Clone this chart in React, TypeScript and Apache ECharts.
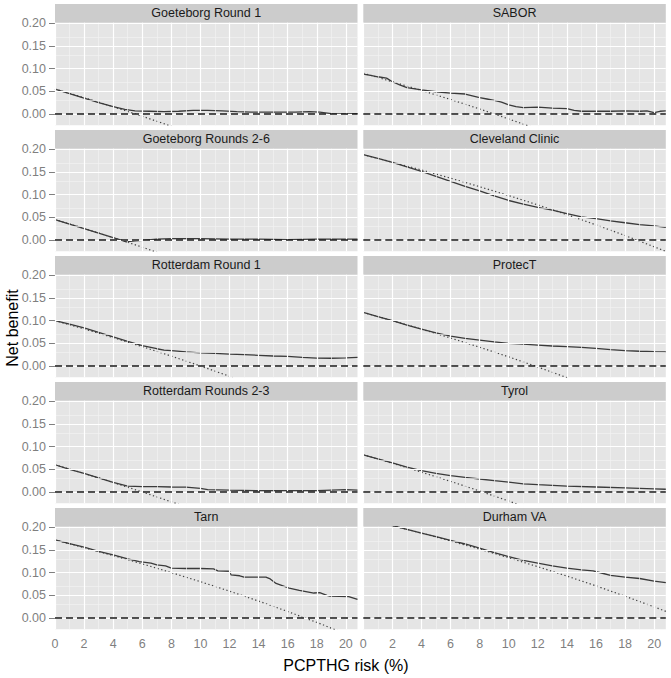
import React, { useEffect, useRef } from "react";
import * as echarts from "echarts";

// ---------- data ----------
const panelTitles = [
  "Goeteborg Round 1",
  "SABOR",
  "Goeteborg Rounds 2-6",
  "Cleveland Clinic",
  "Rotterdam Round 1",
  "ProtecT",
  "Rotterdam Rounds 2-3",
  "Tyrol",
  "Tarn",
  "Durham VA",
];

const xTicks = [0, 2, 4, 6, 8, 10, 12, 14, 16, 18, 20];
const xMinorTicks = [1, 3, 5, 7, 9, 11, 13, 15, 17, 19];
const yTicks = [0, 0.05, 0.1, 0.15, 0.2];
const yMinorTicks = [0.025, 0.075, 0.125, 0.175];
const X_MIN = 0;
const X_MAX = 20.8;
const Y_MIN = -0.0247;
const Y_MAX = 0.2011;
const xTitle = "PCPTHG risk (%)";
const yTitle = "Net benefit";

type Pt = [number, number];

const goeteborgR1Model: Pt[] = [[0,0.055],[1,0.045],[2,0.035],[3,0.025],[4,0.016],[4.8,0.01],[5.5,0.007],[6.5,0.006],[7.5,0.005],[8.5,0.006],[9.5,0.008],[10.5,0.008],[11.5,0.007],[12.5,0.005],[13.5,0.004],[15,0.004],[16.5,0.004],[17.5,0.005],[18.2,0.004],[19,0.001],[20,0.0],[20.8,0.001]];
const goeteborgR1All: Pt[] = [[0,0.055],[2,0.036],[4,0.016],[6,-0.005],[8,-0.027]];

const saborModel: Pt[] = [[0,0.088],[0.5,0.085],[1,0.082],[1.6,0.079],[2,0.071],[2.5,0.064],[3,0.058],[4,0.053],[5,0.049],[6,0.046],[7,0.044],[7.5,0.04],[8,0.036],[8.5,0.033],[9,0.03],[9.5,0.026],[10,0.02],[10.5,0.016],[11,0.014],[12,0.015],[13,0.013],[14,0.012],[14.5,0.008],[15,0.006],[16,0.006],[17,0.006],[18,0.007],[19,0.006],[19.5,0.007],[20,0.003],[20.4,0.006],[20.8,0.007]];
const saborAll: Pt[] = [[0,0.09],[2,0.071],[4,0.052],[6,0.032],[8,0.011],[10,-0.011],[11.5,-0.028]];

const goeteborgR26Model: Pt[] = [[0,0.045],[1,0.035],[2,0.025],[3,0.015],[4,0.005],[4.5,0.0],[4.9,-0.004],[5.5,-0.002],[6,-0.001],[7,0.002],[8,0.003],[10,0.003],[12,0.002],[14,0.002],[16,0.001],[18,0.002],[20,0.002],[20.8,0.002]];
const goeteborgR26All: Pt[] = [[0,0.045],[2,0.0255],[4,0.005],[5,-0.0051],[6,-0.0158],[7,-0.027]];

const clevelandModel: Pt[] = [[0,0.188],[1,0.18],[2,0.171],[3,0.161],[4,0.151],[5,0.14],[6,0.129],[7,0.118],[8,0.108],[9,0.097],[10,0.087],[11,0.079],[12,0.072],[13,0.066],[14,0.058],[15,0.051],[16,0.047],[17,0.042],[18,0.038],[19,0.034],[20,0.031],[20.8,0.028]];
const clevelandAll: Pt[] = [[0,0.188],[2,0.1714],[4,0.1542],[6,0.1362],[8,0.1174],[10,0.0978],[12,0.0773],[14,0.0558],[16,0.0333],[18,0.0098],[20,-0.015],[20.8,-0.025]];

const rotterdamR1Model: Pt[] = [[0,0.1],[1,0.092],[2,0.084],[3,0.074],[4,0.064],[5,0.054],[6,0.045],[7,0.038],[7.5,0.035],[8,0.034],[9,0.031],[10,0.029],[11,0.028],[12,0.026],[13,0.025],[14,0.0235],[15,0.022],[16,0.021],[17,0.019],[18,0.0175],[19,0.017],[20,0.018],[20.8,0.019]];
const rotterdamR1All: Pt[] = [[0,0.1],[2,0.0816],[4,0.0625],[6,0.0426],[8,0.0217],[10,0.0],[12,-0.0227],[12.2,-0.025]];

const protecTModel: Pt[] = [[0,0.118],[1,0.109],[2,0.1],[3,0.09],[4,0.081],[5,0.073],[6,0.066],[7,0.061],[8,0.057],[9,0.053],[10,0.05],[11,0.048],[12,0.046],[13,0.044],[14,0.0425],[15,0.041],[16,0.039],[17,0.036],[18,0.034],[19,0.0325],[20,0.0315],[20.8,0.031]];
const protecTAll: Pt[] = [[0,0.118],[2,0.1],[4,0.0812],[6,0.0617],[8,0.0413],[10,0.02],[12,-0.0023],[14,-0.0256]];

const rotterdamR23Model: Pt[] = [[0,0.06],[1,0.05],[2,0.041],[3,0.031],[4,0.021],[5,0.013],[6,0.012],[7,0.012],[8,0.011],[9,0.0105],[10,0.008],[10.5,0.005],[12,0.004],[14,0.003],[16,0.003],[18,0.003],[19,0.004],[20,0.005],[20.8,0.004]];
const rotterdamR23All: Pt[] = [[0,0.06],[2,0.0408],[4,0.0208],[6,0.0],[8,-0.0217],[8.5,-0.027]];

const tyrolModel: Pt[] = [[0,0.082],[1,0.073],[2,0.064],[3,0.055],[4,0.047],[5,0.041],[6,0.036],[7,0.032],[8,0.0286],[9,0.025],[10,0.0215],[11,0.018],[12,0.016],[13,0.0145],[14,0.013],[16,0.011],[18,0.009],[20,0.007],[20.8,0.006]];
const tyrolAll: Pt[] = [[0,0.082],[2,0.0633],[4,0.0437],[6,0.0234],[8,0.0022],[10,-0.02],[10.6,-0.027]];

const tarnModel: Pt[] = [[0,0.172],[1,0.164],[2,0.156],[3,0.147],[4,0.139],[5,0.13],[5.8,0.124],[6.6,0.121],[7,0.117],[7.6,0.115],[8,0.11],[9,0.109],[10,0.109],[10.9,0.108],[11.2,0.104],[12,0.103],[12.1,0.095],[12.7,0.093],[13,0.09],[14.5,0.09],[14.8,0.086],[15.2,0.076],[16.1,0.066],[16.8,0.061],[17.8,0.055],[18.2,0.056],[18.7,0.05],[18.9,0.048],[20.2,0.047],[20.8,0.041]];
const tarnAll: Pt[] = [[0,0.172],[2,0.155],[4,0.1375],[6,0.1192],[8,0.1],[10,0.08],[12,0.0591],[14,0.0372],[16,0.0143],[18,-0.0097],[20,-0.035]];

const durhamModel: Pt[] = [[0,0.2195],[1,0.212],[2,0.2036],[3,0.195],[4,0.187],[5,0.179],[6,0.171],[7,0.163],[8,0.154],[9,0.144],[10,0.135],[11,0.127],[12,0.121],[13,0.115],[14,0.11],[15,0.106],[15.8,0.104],[16.5,0.098],[17,0.094],[18,0.09],[19,0.087],[20,0.081],[20.8,0.078]];
const durhamAll: Pt[] = [[0,0.2195],[2,0.2036],[4,0.187],[6,0.1697],[8,0.1516],[10,0.1328],[12,0.113],[14,0.0924],[16,0.0708],[18,0.048],[20,0.0244],[20.8,0.0146]];

const treatNone: Pt[] = [[X_MIN, 0], [X_MAX, 0]];

const modelCurves = [goeteborgR1Model, saborModel, goeteborgR26Model, clevelandModel, rotterdamR1Model, protecTModel, rotterdamR23Model, tyrolModel, tarnModel, durhamModel];
const treatAllCurves = [goeteborgR1All, saborAll, goeteborgR26All, clevelandAll, rotterdamR1All, protecTAll, rotterdamR23All, tyrolAll, tarnAll, durhamAll];

// ---------- layout / style ----------
const W = 671;
const H = 678;
const COL_LEFT = [55, 363.3];
const PANEL_W = 302.5;
const ROW_TOP0 = 22.7;
const ROW_STEP = 126;
const PANEL_H = 102.5;
const STRIP_H = 18.6;
const FONT = "Liberation Sans, Arial, Helvetica, sans-serif";
const TICK_GREY = "#7F7F7F";

function buildOption() {
  const grids: any[] = [];
  const xAxes: any[] = [];
  const yAxes: any[] = [];
  const series: any[] = [];
  const graphics: any[] = [];

  panelTitles.forEach((title, i) => {
    const row = Math.floor(i / 2);
    const col = i % 2;
    const left = COL_LEFT[col];
    const top = ROW_TOP0 + ROW_STEP * row;
    const isBottom = row === 4;
    const isLeft = col === 0;

    grids.push({
      left, top, width: PANEL_W, height: PANEL_H,
      show: true, backgroundColor: "#E5E5E5", borderWidth: 0, containLabel: false,
    });

    xAxes.push({
      type: "value", gridIndex: i, min: X_MIN, max: X_MAX,
      axisLine: { show: false },
      splitLine: { show: false },
      axisTick: { show: isBottom, customValues: xTicks, length: 5, lineStyle: { color: TICK_GREY, width: 1 } },
      axisLabel: {
        show: isBottom, customValues: xTicks, color: TICK_GREY, fontSize: 12.5, fontFamily: FONT, margin: 8,
        formatter: (v: number) => String(v),
      },
    });

    yAxes.push({
      type: "value", gridIndex: i, min: Y_MIN, max: Y_MAX,
      axisLine: { show: false },
      splitLine: { show: false },
      axisTick: { show: isLeft, customValues: yTicks, length: 6, lineStyle: { color: TICK_GREY, width: 1 } },
      axisLabel: {
        show: isLeft, customValues: yTicks, color: TICK_GREY, fontSize: 12.5, fontFamily: FONT, margin: 9,
        formatter: (v: number) => v.toFixed(2),
      },
    });

    const minorStyle = { color: "#F2F2F2", width: 0.7, type: "solid" };
    const majorStyle = { color: "#FFFFFF", width: 1.2, type: "solid" };
    const gridLines = [
      ...yMinorTicks.map((v) => ({ yAxis: v, lineStyle: minorStyle })),
      ...xMinorTicks.map((v) => ({ xAxis: v, lineStyle: minorStyle })),
      ...yTicks.map((v) => ({ yAxis: v, lineStyle: majorStyle })),
      ...xTicks.map((v) => ({ xAxis: v, lineStyle: majorStyle })),
    ];

    series.push({
      type: "line", xAxisIndex: i, yAxisIndex: i, data: [[X_MIN, 0]],
      symbol: "none", showSymbol: false, lineStyle: { opacity: 0 }, z: 1, silent: true,
      markLine: {
        silent: true, symbol: ["none", "none"], label: { show: false },
        emphasis: { disabled: true }, animation: false, data: gridLines,
      },
    });

    series.push({
      type: "line", xAxisIndex: i, yAxisIndex: i, data: treatAllCurves[i],
      symbol: "none", showSymbol: false, clip: true, z: 3, silent: true,
      lineStyle: { color: "#404040", width: 1.2, type: [1.3, 2.5] },
    });

    series.push({
      type: "line", xAxisIndex: i, yAxisIndex: i, data: modelCurves[i],
      symbol: "none", showSymbol: false, clip: true, z: 4, silent: true,
      lineStyle: { color: "#3A3A3A", width: 1.3 },
    });

    series.push({
      type: "line", xAxisIndex: i, yAxisIndex: i, data: treatNone,
      symbol: "none", showSymbol: false, clip: true, z: 5, silent: true,
      lineStyle: { color: "#1A1A1A", width: 1.6, type: [7, 4] },
    });

    graphics.push({
      type: "rect", silent: true,
      shape: { x: left, y: top - STRIP_H, width: PANEL_W, height: STRIP_H },
      style: { fill: "#CCCCCC" },
    });
    graphics.push({
      type: "text", silent: true,
      x: left + PANEL_W / 2, y: top - STRIP_H / 2,
      style: { text: title, fill: "#1A1A1A", font: `12.5px ${FONT}`, align: "center", verticalAlign: "middle" },
    });
  });

  graphics.push({
    type: "text", silent: true, x: 12, y: 328, rotation: Math.PI / 2,
    style: { text: yTitle, fill: "#000000", font: `16px ${FONT}`, align: "center", verticalAlign: "middle" },
  });
  graphics.push({
    type: "text", silent: true, x: 346, y: 665,
    style: { text: xTitle, fill: "#000000", font: `16px ${FONT}`, align: "center", verticalAlign: "middle" },
  });

  return {
    animation: false,
    backgroundColor: "#FFFFFF",
    grid: grids,
    xAxis: xAxes,
    yAxis: yAxes,
    series,
    graphic: { elements: graphics },
  };
}

export default function App() {
  const ref = useRef<HTMLDivElement>(null);
  useEffect(() => {
    document.body.style.margin = "0";
    if (!ref.current) return;
    const chart = echarts.init(ref.current, undefined, { renderer: "svg" });
    chart.setOption(buildOption() as any);
    return () => chart.dispose();
  }, []);
  return <div ref={ref} style={{ width: W, height: H }} />;
}
